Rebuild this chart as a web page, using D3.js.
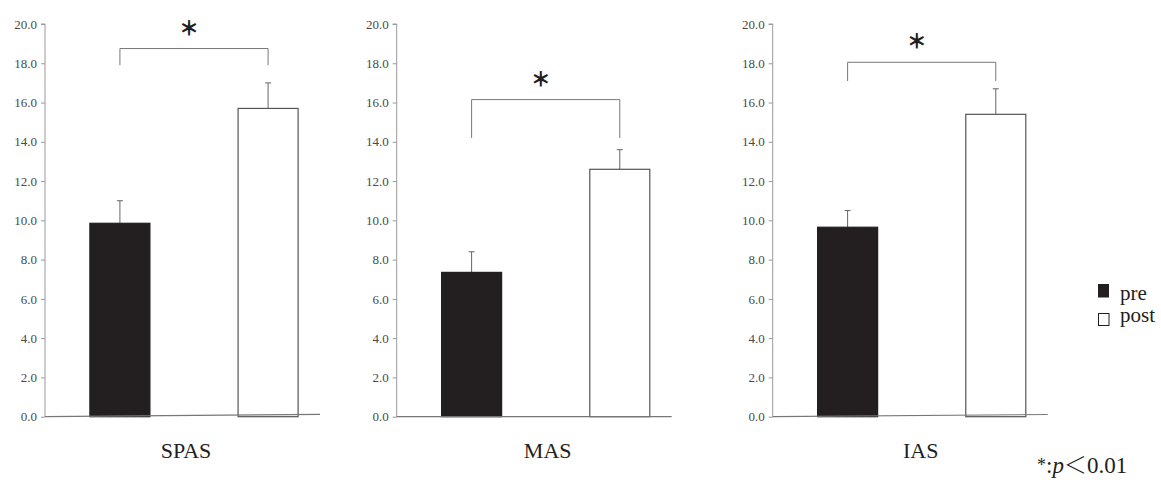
<!DOCTYPE html>
<html>
<head>
<meta charset="utf-8">
<script src="https://cdn.jsdelivr.net/npm/d3@7"></script>
<style>
	body { margin: 0; background: #fff; }
	svg { display: block; }
</style>
</head>
<body>
<svg></svg>
<script>

// values
var categories = ['SPAS', 'MAS', 'IAS'];
var groups = ['pre', 'post'];
var preMeans = [9.85, 7.35, 9.65];
var preSD = [1.15, 1.05, 0.85];
var postMeans = [15.7, 12.6, 15.4];
var postSD = [1.3, 1.0, 1.3];
var bracketTop = [18.75, 16.15, 18.05];
var bracketLeg = [17.9, 14.2, 17.1];
var yTicks = [0, 2, 4, 6, 8, 10, 12, 14, 16, 18, 20];

var ink = '#231f20';
var serif = "'Liberation Serif', 'Times New Roman', serif";

var svg = d3.select('svg')
	.attr('width', 1161)
	.attr('height', 480);

var y = d3.scaleLinear().domain([0, 20]).range([416.7, 24]);

var x = d3.scaleBand().domain(groups)
	.range([0, 298])
	.paddingInner(0.595)
	.paddingOuter(0.303);

var panelX = [45, 396.7, 772.7];
var axisTilt = [-2.4, 0, -2.2];
var labelDx = [141, 151, 148];

categories.forEach(function (cat, i) {
	var g = svg.append('g').attr('transform', 'translate(' + panelX[i] + ',0)');

	var rows = [
		{ group: 'pre', mean: preMeans[i], sd: preSD[i] },
		{ group: 'post', mean: postMeans[i], sd: postSD[i] }
	];

	// y axis
	var ax = g.append('g')
		.call(d3.axisLeft(y).tickValues(yTicks).tickFormat(d3.format('.1f')).tickSize(4).tickPadding(4));
	ax.select('.domain').attr('stroke', '#999').attr('d', 'M-4,' + y(20) + 'H0V' + y(0));
	ax.selectAll('.tick line').attr('stroke', '#999');
	ax.selectAll('.tick text')
		.style('font-family', serif)
		.style('font-size', '13px')
		.attr('fill', '#4a4a4a');

	// error bars (upper only)
	var err = g.append('g').attr('stroke', '#666').attr('stroke-width', 1);
	rows.forEach(function (d) {
		var cx = x(d.group) + x.bandwidth() / 2;
		err.append('line').attr('x1', cx).attr('x2', cx).attr('y1', y(d.mean)).attr('y2', y(d.mean + d.sd));
		err.append('line').attr('x1', cx - 3).attr('x2', cx + 3).attr('y1', y(d.mean + d.sd)).attr('y2', y(d.mean + d.sd));
	});

	// bars
	g.selectAll('rect.bar')
		.data(rows)
		.enter().append('rect')
		.attr('class', 'bar')
		.attr('x', function (d) { return x(d.group); })
		.attr('y', function (d) { return y(d.mean); })
		.attr('width', x.bandwidth())
		.attr('height', function (d) { return y(0) - y(d.mean); })
		.attr('fill', function (d) { return d.group === 'pre' ? ink : '#fff'; })
		.attr('stroke', function (d) { return d.group === 'pre' ? ink : '#555'; })
		.attr('stroke-width', 1.2);

	// x axis line
	g.append('line')
		.attr('x1', 0).attr('y1', y(0))
		.attr('x2', 275).attr('y2', y(0) + axisTilt[i])
		.attr('stroke', '#777').attr('stroke-width', 1.2);

	// significance bracket
	var lx = x('pre') + x.bandwidth() / 2,
		rx = x('post') + x.bandwidth() / 2;
	g.append('path')
		.attr('d', 'M' + lx + ',' + y(bracketLeg[i]) + 'V' + y(bracketTop[i]) + 'H' + rx + 'V' + y(bracketLeg[i]))
		.attr('fill', 'none')
		.attr('stroke', '#777')
		.attr('stroke-width', 1);

	g.append('text')
		.attr('x', (lx + rx) / 2 - 5)
		.attr('y', y(bracketTop[i]) - 13)
		.attr('text-anchor', 'middle')
		.style('font-family', "'Noto Sans CJK JP', 'DejaVu Sans', sans-serif")
		.style('font-size', '20px')
		.style('font-weight', '900')
		.attr('fill', ink)
		.text('＊');

	// category label
	g.append('text')
		.attr('x', labelDx[i])
		.attr('y', 458)
		.attr('text-anchor', 'middle')
		.style('font-family', serif)
		.style('font-size', '22px')
		.attr('fill', ink)
		.text(cat);
});

// legend
var legend = svg.append('g').attr('transform', 'translate(1098,284)');
legend.append('rect').attr('x', 0).attr('y', 0).attr('width', 11).attr('height', 13.5).attr('fill', ink);
legend.append('rect').attr('x', 0.5).attr('y', 29.5).attr('width', 10.5).attr('height', 12).attr('fill', '#fff').attr('stroke', ink).attr('stroke-width', 1);
legend.selectAll('text.lg')
	.data(groups)
	.enter().append('text')
	.attr('class', 'lg')
	.attr('x', 22)
	.attr('y', function (d, i) { return 16 + i * 22; })
	.style('font-family', serif)
	.style('font-size', '21px')
	.attr('fill', ink)
	.text(function (d) { return d; });

// footnote
var note = svg.append('text')
	.attr('x', 1037)
	.attr('y', 473)
	.style('font-family', serif)
	.style('font-size', '23px')
	.attr('fill', ink);
note.append('tspan').style('font-size', '18px').attr('dy', -2).text('*');
note.append('tspan').attr('dy', 2).text(':');
note.append('tspan').style('font-style', 'italic').text('p');
note.append('tspan').style('font-family', "'Noto Sans CJK JP', sans-serif").style('font-weight', '300').text('＜');
note.append('tspan').text('0.01');

</script>
</body>
</html>
